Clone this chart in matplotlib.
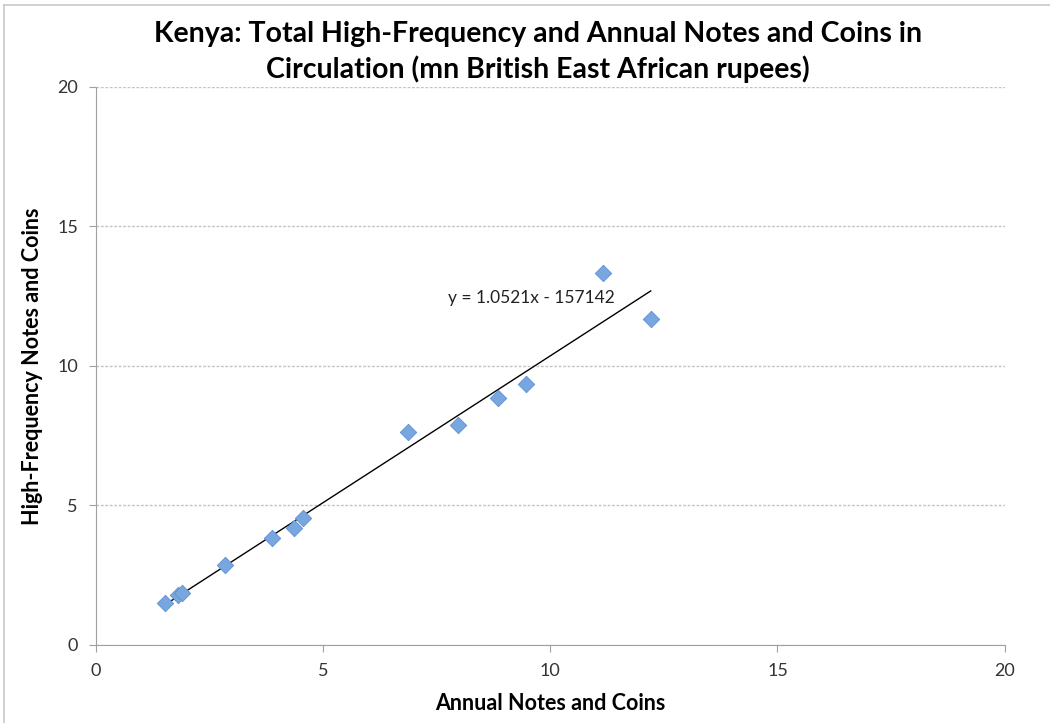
import matplotlib.pyplot as plt
from matplotlib.lines import Line2D
import numpy as np

plt.rcParams['font.family'] = ['Lato', 'DejaVu Sans']

# data (mn British East African rupees)
annual = [1.52, 1.80, 1.90, 2.85, 3.87, 4.35, 4.55, 6.87, 7.97, 8.84, 9.46, 11.17, 12.21]
high_freq = [1.50, 1.78, 1.88, 2.88, 3.84, 4.20, 4.55, 7.65, 7.87, 8.84, 9.35, 13.33, 11.70]
slope = 1.0521
intercept = -157142 / 1e6
eq_label = 'y = 1.0521x - 157142'

fig = plt.figure(figsize=(10.5, 7.23), dpi=100)
ax = fig.add_axes([0.0914, 0.1079, 0.8654, 0.7718])

ax.scatter(annual, high_freq, marker='D', s=70, color='#78a6df', edgecolor='#5f8fcf',
           linewidth=0.6, zorder=3)

xs = np.array([min(annual), max(annual)])
ax.plot(xs, slope * xs + intercept, color='black', lw=1.0, zorder=2)
ax.text(7.75, 12.45, eq_label, fontsize=12.5, color='#222222', ha='left', va='center')

ax.set_xlim(0, 20)
ax.set_ylim(0, 20)
ax.set_xticks([0, 5, 10, 15, 20])
ax.set_yticks([0, 5, 10, 15, 20])
ax.yaxis.grid(True, linestyle=(0, (2, 1.2)), color='#c4c4c4', lw=1.0)
ax.set_axisbelow(True)
for s in ['top', 'right']:
    ax.spines[s].set_visible(False)
for s in ['left', 'bottom']:
    ax.spines[s].set_color('#a0a0a0')
ax.tick_params(axis='both', direction='out', length=5, color='#a0a0a0',
               labelsize=13, labelcolor='#333333', pad=8)

ax.set_xlabel('Annual Notes and Coins', fontsize=15.5, fontweight='bold', labelpad=10)
ax.set_ylabel('High-Frequency Notes and Coins', fontsize=15.5, fontweight='bold', labelpad=10)
fig.text(0.512, 0.928, 'Kenya: Total High-Frequency and Annual Notes and Coins in\nCirculation (mn British East African rupees)',
         ha='center', va='center', fontsize=20.5, fontweight='bold', linespacing=1.35)

# chart frame (left/top)
fig.add_artist(Line2D([0.004, 0.004], [0, 0.993], transform=fig.transFigure, color='#c8c8c8', lw=1.2))
fig.add_artist(Line2D([0.004, 1], [0.993, 0.993], transform=fig.transFigure, color='#c8c8c8', lw=1.2))

fig.savefig('out.png', dpi=100)
